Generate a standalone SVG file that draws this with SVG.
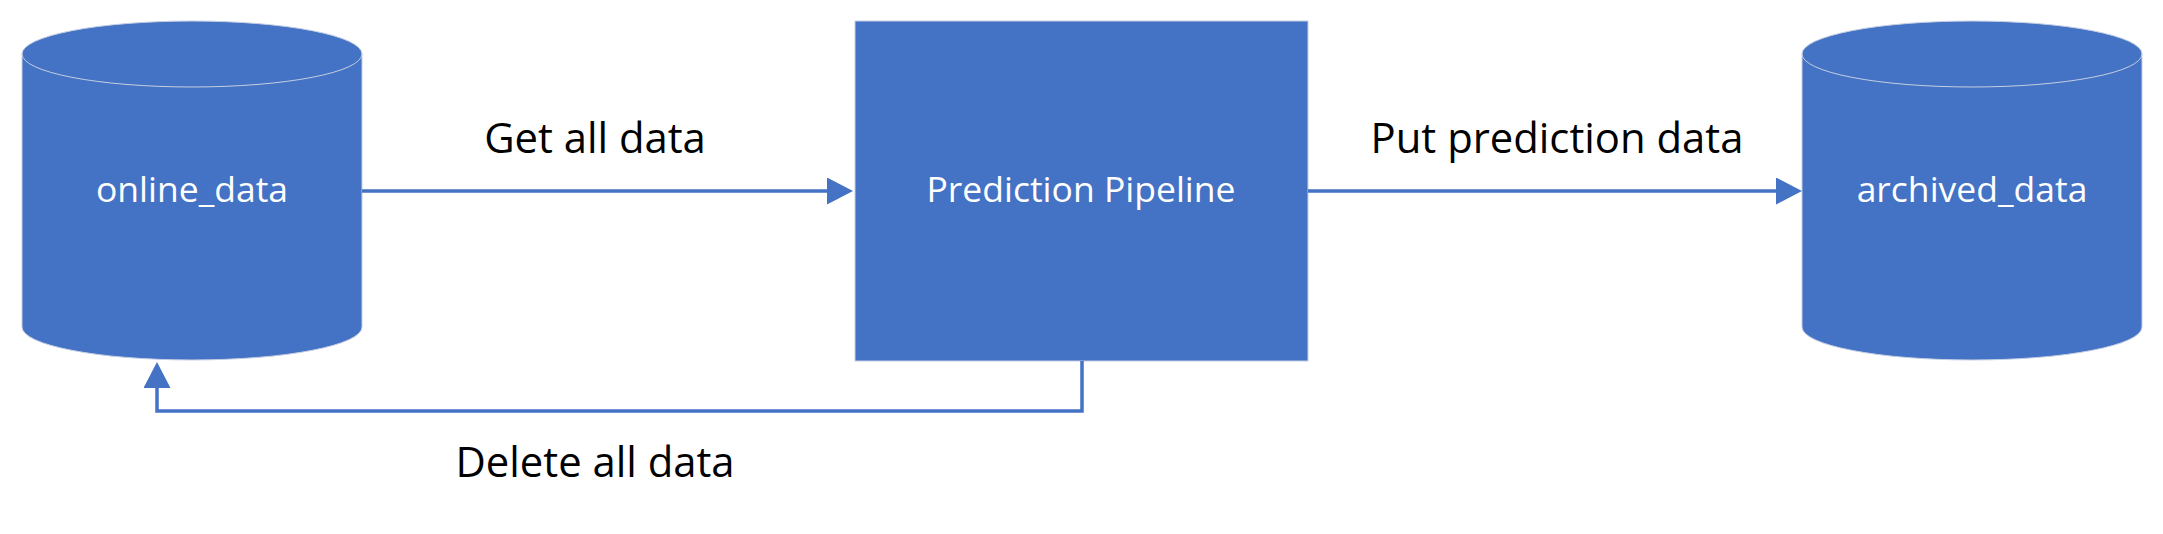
<svg xmlns="http://www.w3.org/2000/svg" width="2163" height="534" viewBox="0 0 2163 534">
<style>
.shape{fill:#4472C4;stroke:#c5cfe3;stroke-width:1}
.rim{fill:none;stroke:#c5cfe3;stroke-width:1}
.ntext{font-family:"Open Sans","Liberation Sans",sans-serif;font-size:35.5px;fill:#ffffff;text-anchor:middle}
.etext{font-family:"Open Sans","Liberation Sans",sans-serif;font-size:41.8px;fill:#000000;text-anchor:middle}
.conn{fill:none;stroke:#4472C4;stroke-width:3.5}
</style>
<defs>
<marker id="arrow" markerUnits="userSpaceOnUse" viewBox="0 0 26 27" markerWidth="26" markerHeight="27" refX="16" refY="13.5" orient="auto">
<path d="M0,0 L26,13.5 L0,27 Z" fill="#4472C4"/>
</marker>
</defs>
<rect width="2163" height="534" fill="#ffffff"/>
<g id="online_data">
<path class="shape" d="M22,54 A170,33 0 0,1 362,54 L362,327 A170,33 0 0,1 22,327 Z"/>
<path class="rim" d="M22,54 A170,33 0 0,0 362,54"/>
<text class="ntext" x="192" y="202">online_data</text>
</g>
<g id="prediction_pipeline">
<rect class="shape" x="855" y="21" width="453" height="340"/>
<text class="ntext" x="1081" y="202">Prediction Pipeline</text>
</g>
<g id="archived_data">
<path class="shape" d="M1802,54 A170,33 0 0,1 2142,54 L2142,327 A170,33 0 0,1 1802,327 Z"/>
<path class="rim" d="M1802,54 A170,33 0 0,0 2142,54"/>
<text class="ntext" x="1972" y="202">archived_data</text>
</g>
<g id="connectors">
<path class="conn" d="M362,191 H843" marker-end="url(#arrow)"/>
<text class="etext" x="595" y="153">Get all data</text>
<path class="conn" d="M1308,191 H1792" marker-end="url(#arrow)"/>
<text class="etext" x="1557" y="153">Put prediction data</text>
<path class="conn" d="M1082,361 V411 H157 V372" marker-end="url(#arrow)"/>
<text class="etext" x="595" y="477">Delete all data</text>
</g>
</svg>
